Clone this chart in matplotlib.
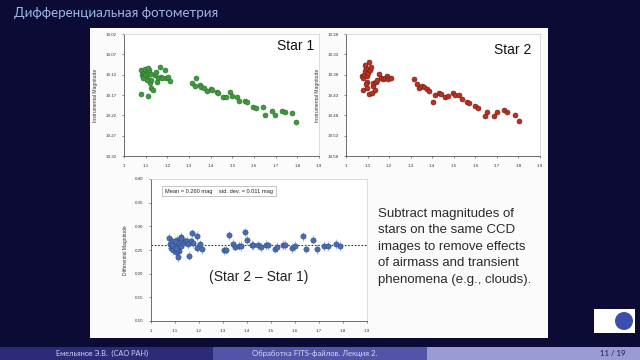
import matplotlib
matplotlib.use("Agg")
import matplotlib.pyplot as plt
from matplotlib.patches import Rectangle, Ellipse
from matplotlib.ticker import FormatStrFormatter

# star 1 (airmass, instrumental magnitude)
s1_x = [1.077, 1.080, 1.083, 1.088, 1.092, 1.095, 1.098, 1.103, 1.108, 1.111, 1.114, 1.111,
        1.118, 1.123, 1.126, 1.134, 1.109, 1.098, 1.142, 1.148, 1.157, 1.154, 1.165, 1.169,
        1.177, 1.191, 1.192, 1.203, 1.211, 1.126, 1.105, 1.089,
        1.314, 1.326, 1.334, 1.351, 1.357, 1.368, 1.382, 1.400, 1.408, 1.429, 1.434, 1.457,
        1.469, 1.489, 1.500, 1.520, 1.531, 1.557, 1.568, 1.595, 1.608, 1.641, 1.651, 1.683,
        1.695, 1.728, 1.743, 1.777, 1.792]
s1_mag = [19.109, 19.168, 19.121, 19.117, 19.113, 19.125, 19.107, 19.119, 19.129, 19.115, 19.109, 19.103,
          19.141, 19.133, 19.154, 19.158, 19.172, 19.122, 19.121, 19.114, 19.129, 19.139, 19.100, 19.125,
          19.127, 19.109, 19.127, 19.125, 19.136, 19.119, 19.133, 19.129,
          19.140, 19.148, 19.129, 19.145, 19.150, 19.153, 19.159, 19.156, 19.158, 19.163, 19.166, 19.174,
          19.176, 19.162, 19.172, 19.176, 19.184, 19.185, 19.186, 19.200, 19.203, 19.199, 19.218, 19.209,
          19.220, 19.209, 19.211, 19.214, 19.236]

# star 2
s2_x = [1.077, 1.073, 1.080, 1.085, 1.088, 1.093, 1.096, 1.099, 1.104, 1.108, 1.111, 1.114,
        1.108, 1.119, 1.124, 1.135, 1.127, 1.139, 1.145, 1.155, 1.161, 1.173, 1.181, 1.189,
        1.196, 1.207, 1.091, 1.099, 1.088,
        1.317, 1.331, 1.337, 1.351, 1.362, 1.377, 1.385, 1.402, 1.411, 1.431, 1.439, 1.461,
        1.472, 1.495, 1.504, 1.526, 1.537, 1.561, 1.572, 1.600, 1.612, 1.643, 1.656, 1.687,
        1.702, 1.735, 1.748, 1.784, 1.801]
s2_mag = [19.417, 19.384, 19.388, 19.380, 19.372, 19.364, 19.397, 19.384, 19.376, 19.349, 19.368, 19.362,
          19.428, 19.425, 19.409, 19.417, 19.401, 19.397, 19.393, 19.379, 19.388, 19.390, 19.387, 19.384,
          19.390, 19.387, 19.403, 19.413, 19.356,
          19.390, 19.402, 19.412, 19.409, 19.410, 19.416, 19.419, 19.446, 19.431, 19.425, 19.427, 19.436,
          19.433, 19.424, 19.431, 19.430, 19.439, 19.448, 19.449, 19.456, 19.462, 19.481, 19.471, 19.481,
          19.473, 19.467, 19.471, 19.479, 19.495]

# differential magnitude (star 2 - star 1)
d_x = [1.077, 1.080, 1.083, 1.088, 1.092, 1.095, 1.098, 1.103, 1.108, 1.111, 1.114, 1.111,
       1.118, 1.123, 1.126, 1.134, 1.109, 1.098, 1.142, 1.148, 1.157, 1.154, 1.165, 1.169,
       1.177, 1.191, 1.192, 1.203, 1.211, 1.126, 1.105, 1.089,
       1.303, 1.314, 1.327, 1.342, 1.348, 1.365, 1.373, 1.391, 1.399, 1.420, 1.426, 1.446,
       1.457, 1.480, 1.488, 1.517, 1.524, 1.549, 1.559, 1.587, 1.599, 1.632, 1.647, 1.674,
       1.690, 1.720, 1.737, 1.772, 1.786]
d_val = [0.275, 0.262, 0.255, 0.268, 0.250, 0.258, 0.262, 0.245, 0.272, 0.265, 0.235, 0.255,
         0.248, 0.278, 0.258, 0.265, 0.250, 0.268, 0.268, 0.270, 0.238, 0.262, 0.268, 0.285,
         0.265, 0.280, 0.255, 0.262, 0.252, 0.275, 0.255, 0.260,
         0.2495, 0.251, 0.281, 0.263, 0.257, 0.259, 0.258, 0.287, 0.271, 0.261, 0.260, 0.260,
         0.256, 0.261, 0.260, 0.253, 0.256, 0.261, 0.261, 0.254, 0.258, 0.279, 0.253, 0.272,
         0.252, 0.258, 0.258, 0.263, 0.258]
d_err = 0.01
mean_val = 0.26

xticks = [1, 1.1, 1.2, 1.3, 1.4, 1.5, 1.6, 1.7, 1.8, 1.9]
xticklabels = ["1", "1.1", "1.2", "1.3", "1.4", "1.5", "1.6", "1.7", "1.8", "1.9"]
s1_ticks = [19.02, 19.07, 19.12, 19.17, 19.22, 19.27, 19.32]
s2_ticks = [19.28, 19.33, 19.38, 19.43, 19.48, 19.53, 19.58]
d_ticks = [0.10, 0.15, 0.20, 0.25, 0.30, 0.35, 0.40]

navy = "#0b0b36"
plt.rcParams['font.family'] = ['Liberation Sans', 'DejaVu Sans']

fig = plt.figure(figsize=(6.4, 3.6), dpi=100, facecolor=navy)

# white picture area, behind the axes
fig.patches.append(Rectangle((90/640, 1-338/360), 458/640, 310/360, transform=fig.transFigure,
                             facecolor="#fbfbfb", edgecolor="none", zorder=-5))

def style(ax, yticks, ylabel):
    ax.set_facecolor("white")
    ax.set_xlim(1, 1.9)
    ax.set_xticks(xticks)
    ax.set_xticklabels(xticklabels)
    ax.set_yticks(yticks)
    ax.yaxis.set_major_formatter(FormatStrFormatter('%.2f'))
    ax.tick_params(labelsize=3.2, length=1.5, width=0.4, colors="#333", pad=4)
    for sp in ["left", "bottom"]:
        ax.spines[sp].set_color("#555")
        ax.spines[sp].set_linewidth(0.6)
    for sp in ["top", "right"]:
        ax.spines[sp].set_color("#d5d5d5")
        ax.spines[sp].set_linewidth(0.6)
    ax.set_ylabel(ylabel, fontsize=3.6, color="#333", labelpad=5)

ax1 = fig.add_axes([124/640, 1-156/360, 195/640, 122/360])
ax1.plot(s1_x, s1_mag, 'o', ms=3.6, color="#3f9a3f", mec="#2c6f2c", mew=0.4)
ax1.set_ylim(19.32, 19.02)
style(ax1, s1_ticks, "Instrumental Magnitude")
ax1.text(0.88, 0.9, "Star 1", transform=ax1.transAxes, fontsize=10, ha="center", va="center", color="#111")

ax2 = fig.add_axes([346/640, 1-156/360, 194/640, 122/360])
ax2.plot(s2_x, s2_mag, 'o', ms=3.6, color="#b83222", mec="#6e1a12", mew=0.4)
ax2.set_ylim(19.58, 19.28)
style(ax2, s2_ticks, "Instrumental Magnitude")
ax2.text(0.86, 0.87, "Star 2", transform=ax2.transAxes, fontsize=10, ha="center", va="center", color="#111")

ax3 = fig.add_axes([151/640, 1-321/360, 216/640, 142/360])
ax3.errorbar(d_x, d_val, yerr=d_err, fmt='o', ms=3.8, color="#4a6bb0", mec="#2e4c8e", mew=0.4,
             ecolor="#b5c3de", elinewidth=0.8, capsize=0, zorder=3)
ax3.axhline(mean_val, ls=(0, (1.5, 1.5)), color="#333", lw=0.8, zorder=2)
ax3.set_ylim(0.10, 0.40)
style(ax3, d_ticks, "Differential Magnitude")
ax3.text(0.065, 0.915, "Mean = 0.260 mag    std. dev. = 0.011 mag", transform=ax3.transAxes,
         fontsize=4.1, ha="left", va="center", color="#222",
         bbox=dict(boxstyle="square,pad=0.5", facecolor="white", edgecolor="#999", lw=0.4))
ax3.text(0.5, 0.31, "(Star 2 \u2013 Star 1)", transform=ax3.transAxes, fontsize=10,
         ha="center", va="center", color="#222")

fig.text(378/640, 1-208/360,
         "Subtract magnitudes of\nstars on the same CCD\nimages to remove effects\nof airmass and transient\nphenomena (e.g., clouds).",
         fontsize=9.5, ha="left", va="top", color="#2a2a2a", linespacing=1.5)

# slide title
fig.text(14/640, 1-13/360, "Дифференциальная фотометрия", fontsize=9.6, color="#9fb6e6",
         ha="left", va="center", family=["Lato", "DejaVu Sans"])

# footer
fig.patches.append(Rectangle((0, 0), 213/640, 13/360, transform=fig.transFigure,
                             facecolor="#2b2b78", edgecolor="none"))
fig.patches.append(Rectangle((213/640, 0), 214/640, 13/360, transform=fig.transFigure,
                             facecolor="#5353a8", edgecolor="none"))
fig.patches.append(Rectangle((427/640, 0), 213/640, 13/360, transform=fig.transFigure,
                             facecolor="#9a9ad4", edgecolor="none"))
fig.text(102/640, 6.5/360, "Емельянов Э.В.  (САО РАН)", fontsize=5.3, color="#d0d0f2",
         ha="center", va="center", family=["Lato", "DejaVu Sans"])
fig.text(315/640, 6.5/360, "Обработка FITS-файлов. Лекция 2.", fontsize=5.6, color="#d8d8f6",
         ha="center", va="center", family=["Lato", "DejaVu Sans"])
fig.text(626/640, 6.5/360, "11 / 19", fontsize=5.6, color="#1a1a50",
         ha="right", va="center", family=["Lato", "DejaVu Sans"])

# logo
fig.patches.append(Rectangle((594/640, 1-333/360), 41/640, 24/360, transform=fig.transFigure,
                             facecolor="white", edgecolor="none"))
fig.patches.append(Ellipse((624/640, 1-321/360), 18/640, 18/360, transform=fig.transFigure,
                           facecolor="#3a4fb0", edgecolor="none"))

fig.savefig("out.png", dpi=100, facecolor=navy)
